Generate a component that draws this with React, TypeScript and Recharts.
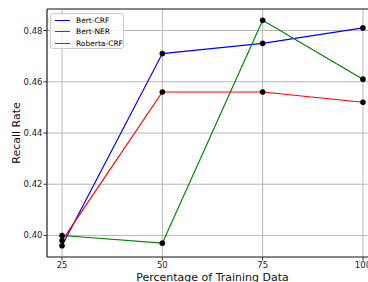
import React from 'react';
import { LineChart, Line, XAxis, YAxis, CartesianGrid, ReferenceLine } from 'recharts';

const percentages = [25, 50, 75, 100];
const bertCrf = [0.396, 0.471, 0.475, 0.481];
const bertNer = [0.4, 0.397, 0.484, 0.461];
const robertaCrf = [0.398, 0.456, 0.456, 0.452];
const yTicks = [0.4, 0.42, 0.44, 0.46, 0.48];
const xDomain: [number, number] = [21.25, 103.75];
const yDomain: [number, number] = [0.3916, 0.4884];

const series = [
  { key: 'bertCrf', name: 'Bert-CRF', color: '#0000ff', values: bertCrf },
  { key: 'bertNer', name: 'Bert-NER', color: '#008000', values: bertNer },
  { key: 'robertaCrf', name: 'Roberta-CRF', color: '#ff0000', values: robertaCrf },
];

const data = percentages.map((p, i) => {
  const row: any = { pct: p };
  series.forEach((s) => {
    row[s.key] = s.values[i];
  });
  return row;
});

const FONT = 'DejaVu Sans, sans-serif';

const LegendBox = () => (
  <div
    style={{
      position: 'absolute',
      left: 50,
      top: 13,
      width: 74,
      height: 36,
      border: '1px solid #cccccc',
      borderRadius: 3,
      background: 'rgba(255,255,255,0.8)',
      fontFamily: FONT,
      fontSize: 7.5,
      lineHeight: '11.3px',
      color: '#000',
      boxSizing: 'border-box',
      paddingTop: 1,
      whiteSpace: 'nowrap',
    }}
  >
    {series.map((s) => (
      <div key={s.key} style={{ display: 'flex', alignItems: 'center', height: 11.3 }}>
        <div style={{ width: 15, height: 0, borderTop: `1.2px solid ${s.color}`, marginLeft: 4, marginRight: 6 }} />
        <span>{s.name}</span>
      </div>
    ))}
  </div>
);

export default function App() {
  return (
    <div style={{ position: 'absolute', left: 0, top: 0, width: 368, height: 282, overflow: 'hidden', background: '#fff' }}>
      <LineChart width={380} height={282} data={data} margin={{ top: 9, right: 2, bottom: 0, left: 0 }}>
        <CartesianGrid stroke="#b0b0b0" strokeWidth={0.9} />
        <XAxis
          dataKey="pct"
          type="number"
          domain={xDomain}
          ticks={percentages}
          height={25}
          tickSize={3.5}
          tickMargin={1.5}
          stroke="#333"
          axisLine={{ stroke: '#333', strokeWidth: 1.2 }}
          tickLine={{ stroke: '#333' }}
          tick={{ fontSize: 8.5, fontFamily: FONT, fill: '#222' }}
          label={{
            content: () => (
              <text x={212.5} y={281} textAnchor="middle" fontFamily={FONT} fontSize={11} fill="#111">
                Percentage of Training Data
              </text>
            ),
          }}
        />
        <YAxis
          type="number"
          domain={yDomain}
          ticks={yTicks}
          width={47}
          tickSize={3.5}
          tickMargin={1}
          allowDataOverflow
          stroke="#333"
          axisLine={{ stroke: '#333', strokeWidth: 1.2 }}
          tickLine={{ stroke: '#333' }}
          tickFormatter={(v: number) => v.toFixed(2)}
          tick={{ fontSize: 8.5, fontFamily: FONT, fill: '#222' }}
          label={{
            content: () => (
              <text
                x={20}
                y={133}
                transform="rotate(-90 20 133)"
                textAnchor="middle"
                fontFamily={FONT}
                fontSize={11}
                fill="#111"
              >
                Recall Rate
              </text>
            ),
          }}
        />
        <ReferenceLine y={yDomain[1]} stroke="#333" strokeWidth={1.2} />
        {series.map((s) => (
          <Line
            key={s.key}
            name={s.name}
            dataKey={s.key}
            stroke={s.color}
            strokeWidth={1.2}
            dot={{ r: 2.6, fill: '#000', stroke: '#000', strokeWidth: 0.5 }}
            isAnimationActive={false}
          />
        ))}
      </LineChart>
      <LegendBox />
    </div>
  );
}
